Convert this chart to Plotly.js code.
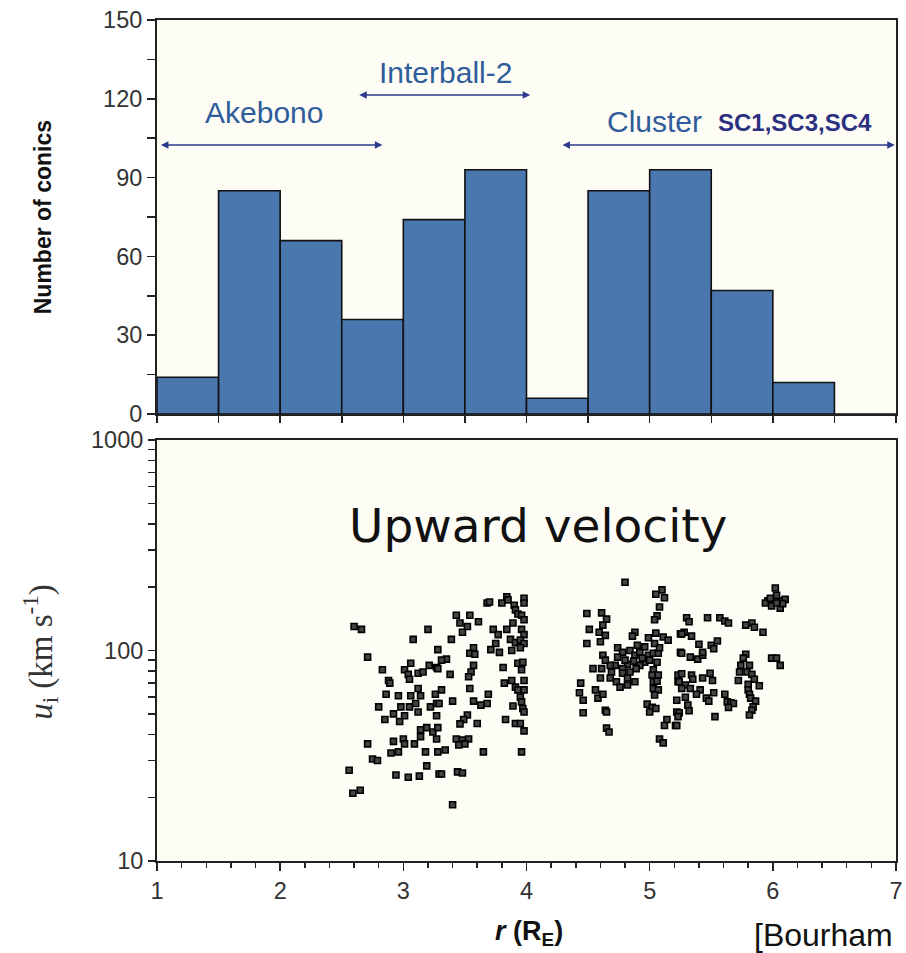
<!DOCTYPE html>
<html>
<head>
<meta charset="utf-8">
<script src="https://cdn.plot.ly/plotly-3.0.1.min.js"></script>
<style>html,body{margin:0;padding:0;background:#fff;}</style>
</head>
<body>
<div id="chart" style="width:906px;height:953px;"></div>
<script>
// Histogram: number of conics per 0.5 R_E bin
var binCenters = [1.25, 1.75, 2.25, 2.75, 3.25, 3.75, 4.25, 4.75, 5.25, 5.75, 6.25, 6.75];
var conicCounts = [14, 85, 66, 36, 74, 93, 6, 85, 93, 47, 12, 0];

// Upward velocity scatter (Akebono / Interball-2 region)
var rLow = [2.60,2.66,3.20,3.08,3.28,2.71,2.83,3.06,3.01,3.04,3.12,3.16,3.21,3.27,2.88,2.89,3.05,2.86,2.96,3.06,3.12,3.14,3.26,
3.68,3.70,3.80,3.84,3.85,3.90,3.98,3.98,3.91,3.93,3.96,3.98,3.43,3.54,3.46,3.52,3.61,3.48,3.73,3.77,3.84,3.89,3.96,3.98,3.39,3.87,3.91,3.95,3.98,3.75,3.71,3.78,3.88,3.95,3.57,3.54,3.58,3.35,3.31,3.28,3.57,3.81,3.93,3.97,3.96,3.38,3.55,3.53,3.82,3.88,3.98,3.91,3.93,3.98,3.31,3.54,3.69,3.95,
2.80,2.98,3.05,3.10,3.12,3.22,3.27,2.85,2.92,2.97,3.01,3.14,3.19,3.24,3.14,3.27,3.00,3.01,3.09,2.92,2.71,2.96,2.90,3.18,2.75,2.79,2.56,3.19,2.94,3.04,3.13,3.29,2.59,2.65,
3.29,3.40,3.57,3.63,3.68,3.89,3.96,3.97,3.98,3.27,3.52,3.49,3.46,3.60,3.83,3.91,3.95,3.98,3.28,3.43,3.48,3.53,3.45,3.50,3.34,3.28,3.65,3.96,3.31,3.44,3.48,3.40];
var uLow = [130,126,126,113,101,93,81,87,81,77,78,79,85,83,72,70,73,62,61,61,66,61,62,
168,170,168,180,174,164,177,168,156,149,147,140,147,147,135,130,137,122,126,119,126,135,126,119,113,113,109,112,108,108,101,98,100,103,103,97,96,91,90,82,85,83,87,88,81,77,79,75,70,72,72,67,65,65,65,66,62,60,
54,54,54,56,51,54,56,47,50,46,49,42,43,41,39,38,38,36,36,37,36,33,32.6,33,30.5,30,27,28.3,25.6,25,25.3,25.9,21,21.7,
56,57.5,57.5,55,56,54.5,57,53,51,49,49.4,47,44.8,45,47,45,45,41.5,43,38,37.6,38,35.6,36,33.7,33,33,33,25.9,26.5,26.2,18.5];

// Upward velocity scatter (Cluster region)
var rHigh = [4.80,5.10,5.05,5.12,5.08,5.06,5.04,4.49,4.61,4.65,4.62,4.51,4.59,4.64,4.60,4.49,4.88,4.86,4.99,5.05,5.11,5.15,5.04,4.74,4.78,4.74,4.62,4.84,4.88,4.92,4.96,4.99,5.03,5.07,4.87,4.96,5.06,4.82,4.54,4.61,4.78,4.84,5.03,5.07,4.69,4.78,4.82,4.88,4.60,4.68,4.73,4.76,4.82,5.02,5.03,5.06,5.03,5.07,5.04,4.44,4.43,4.56,4.58,4.62,4.46,4.46,4.64,4.65,4.98,5.02,5.00,5.05,5.22,5.22,5.14,5.12,5.21,4.65,4.67,5.08,5.11,5.23,5.23,5.25,5.25,
4.90,4.94,4.80,5.00,4.92,4.72,4.68,4.64,5.08,4.89,
6.02,5.96,6.02,6.07,6.10,6.06,5.94,5.99,6.03,5.98,6.08,6.03,
5.30,5.32,5.47,5.57,5.61,5.64,5.78,5.83,5.85,5.92,5.28,5.34,5.26,5.40,5.50,5.55,5.52,5.26,5.33,5.39,5.43,5.43,5.78,5.76,5.74,5.81,5.73,5.79,5.83,5.85,5.72,5.80,5.89,5.80,5.81,5.82,5.86,5.84,5.83,5.81,5.99,6.03,6.06,
5.26,5.34,5.35,5.43,5.49,5.51,5.24,5.29,5.26,5.33,5.41,5.38,5.52,5.61,5.29,5.46,5.48,5.63,5.66,5.68,5.64,5.31,5.32,5.24,5.23,5.53,5.22];
var uHigh = [211,194,185,178,161,146,140,150,151,141,132,126,122,118,110,108,122,117,115,121,116,112,108,103,98,93,95,100,95,98,104,95,97,97,89,88,88,86,82,82,82,79,81,76.5,79,78,74,71,74,74,71,67,68.6,76.5,71,71.5,66,65,61.5,70,63,65,59.4,62,58,50.6,52,51,55.6,53.7,51,53,58,51,47,44,44,42.8,41,38,36.4,76.5,71,98,120,
106,92,90,90,85,85,85,90,103,82,
198,172,174,172,175,159,168,163,183,177,167,168,
143,137,143,143,138,135,132,135,129,122,122,117,120,107,106,111,102,97,93,91,95,98,96,92,85,85,79,79,77,73,72,69,68,65,62,59.4,57.5,54,52,49.4,92,92,85,
77.5,76.5,73,74,78,72,71,68.6,66,66,65,62,63,62,60,59.4,57.5,57,56.5,56,53.7,55,51.7,50.6,48.5,48.5,44];

var rAll = rLow.concat(rHigh);
var uAll = uLow.concat(uHigh);

var xTickVals = [1, 2, 3, 4, 5, 6, 7];
var yLogTickVals = [10, 20, 30, 40, 50, 60, 70, 80, 90, 100, 200, 300, 400, 500, 600, 700, 800, 900, 1000];
var yLogTickText = ['10', '', '', '', '', '', '', '', '', '100', '', '', '', '', '', '', '', '', '1000'];
var yLinTickVals = [0, 15, 30, 45, 60, 75, 90, 105, 120, 135, 150];
var yLinTickText = ['0', '', '30', '', '60', '', '90', '', '120', '', '150'];

var axisColor = '#222';
var sansFamily = 'Liberation Sans, Arial, sans-serif';
var tickFont = {family: sansFamily, size: 23.5, color: '#333'};
var arrowColor = '#2B3A8C';
var labelColor = '#2F5C9A';

var traces = [
  {
    type: 'bar', x: binCenters, y: conicCounts, width: 0.5,
    marker: {color: '#4A78AE', line: {color: '#111', width: 1.6}},
    xaxis: 'x', yaxis: 'y', hoverinfo: 'skip'
  },
  {
    type: 'scatter', mode: 'markers', x: rAll, y: uAll,
    marker: {symbol: 'square', size: 6, color: '#444', line: {width: 1.6, color: '#000'}},
    xaxis: 'x2', yaxis: 'y2', hoverinfo: 'skip'
  }
];

var layout = {
  width: 906, height: 953,
  margin: {l: 157, r: 10, t: 20, b: 92},
  paper_bgcolor: '#ffffff',
  plot_bgcolor: '#FDFDF5',
  showlegend: false,
  bargap: 0,
  xaxis: {
    domain: [0, 1], anchor: 'y', range: [1, 7],
    tickmode: 'linear', tick0: 1, dtick: 0.5, ticks: 'outside', ticklen: 7, tickwidth: 1.5, tickcolor: axisColor,
    showticklabels: false, showgrid: false, zeroline: false,
    showline: true, linecolor: axisColor, linewidth: 2, mirror: true
  },
  yaxis: {
    domain: [0.5315, 1], anchor: 'x', range: [0, 150],
    tickmode: 'array', tickvals: yLinTickVals, ticktext: yLinTickText,
    ticks: 'outside', ticklen: 8, tickwidth: 1.5, tickcolor: axisColor,
    tickfont: tickFont, showgrid: false, zeroline: false,
    showline: true, linecolor: axisColor, linewidth: 2, mirror: true
  },
  xaxis2: {
    domain: [0, 1], anchor: 'y2', range: [1, 7],
    tickmode: 'array', tickvals: xTickVals,
    ticks: 'outside', ticklen: 8, tickwidth: 1.5, tickcolor: axisColor,
    minor: {dtick: 0.2, tick0: 1, ticks: 'outside', ticklen: 5, tickwidth: 1.5, tickcolor: axisColor, showgrid: false},
    tickfont: tickFont, showgrid: false, zeroline: false,
    showline: true, linecolor: axisColor, linewidth: 2, mirror: true
  },
  yaxis2: {
    domain: [0, 0.5006], anchor: 'x2', type: 'log', range: [1, 3],
    tickmode: 'array', tickvals: yLogTickVals, ticktext: yLogTickText,
    ticks: 'outside', ticklen: 7, tickwidth: 1.5, tickcolor: axisColor,
    tickfont: tickFont, showgrid: false, zeroline: false,
    showline: true, linecolor: axisColor, linewidth: 2, mirror: true
  },
  annotations: [
    // satellite range arrows
    {xref: 'x', yref: 'y', axref: 'x', ayref: 'y', x: 2.83, y: 102.4, ax: 1.02, ay: 102.4, text: '',
     showarrow: true, arrowside: 'end+start', arrowhead: 2, arrowsize: 1, arrowwidth: 1.5, arrowcolor: arrowColor},
    {xref: 'x', yref: 'y', axref: 'x', ayref: 'y', x: 4.03, y: 121.4, ax: 2.63, ay: 121.4, text: '',
     showarrow: true, arrowside: 'end+start', arrowhead: 2, arrowsize: 1, arrowwidth: 1.5, arrowcolor: arrowColor},
    {xref: 'x', yref: 'y', axref: 'x', ayref: 'y', x: 6.99, y: 102.4, ax: 4.28, ay: 102.4, text: '',
     showarrow: true, arrowside: 'end+start', arrowhead: 2, arrowsize: 1, arrowwidth: 1.5, arrowcolor: arrowColor},
    {xref: 'x', yref: 'y', x: 1.87, y: 114.6, xanchor: 'center', yanchor: 'middle', text: 'Akebono', showarrow: false,
     font: {family: sansFamily, size: 30, color: labelColor}},
    {xref: 'x', yref: 'y', x: 3.34, y: 130.2, xanchor: 'center', yanchor: 'middle', text: 'Interball-2', showarrow: false,
     font: {family: sansFamily, size: 30, color: labelColor}},
    {xref: 'x', yref: 'y', x: 5.04, y: 111.2, xanchor: 'center', yanchor: 'middle', text: 'Cluster', showarrow: false,
     font: {family: sansFamily, size: 30, color: labelColor}},
    {xref: 'x', yref: 'y', x: 6.18, y: 110.8, xanchor: 'center', yanchor: 'middle', text: '<b>SC1,SC3,SC4</b>', showarrow: false,
     font: {family: sansFamily, size: 24, color: '#2B3180'}},
    // axis titles
    {xref: 'paper', yref: 'paper', x: -0.155, y: 0.766, xanchor: 'center', yanchor: 'middle',
     text: '<b>Number of conics</b>', textangle: -90, showarrow: false,
     font: {family: sansFamily, size: 23, color: '#111'}},
    {xref: 'paper', yref: 'paper', x: -0.158, y: 0.249, xanchor: 'center', yanchor: 'middle',
     text: '<i>u</i><sub>i</sub> (km s<sup>-1</sup>)', textangle: -90, showarrow: false,
     font: {family: 'Liberation Serif, Times New Roman, serif', size: 33, color: '#333'}},
    {xref: 'paper', yref: 'paper', x: 0.503, y: -0.086, xanchor: 'center', yanchor: 'middle',
     text: '<b><i>r</i> (R<sub>E</sub>)</b>', showarrow: false,
     font: {family: sansFamily, size: 27, color: '#111'}},
    {xref: 'paper', yref: 'paper', x: 0.805, y: -0.088, xanchor: 'left', yanchor: 'middle',
     text: '[Bourham', showarrow: false,
     font: {family: sansFamily, size: 32, color: '#111'}},
    // panel label
    {xref: 'x2', yref: 'y2', x: 4.09, y: 2.596, xanchor: 'center', yanchor: 'middle',
     text: 'Upward velocity', showarrow: false,
     font: {family: 'DejaVu Sans, Verdana, sans-serif', size: 47, color: '#111'}}
  ]
};

Plotly.newPlot('chart', traces, layout, {displayModeBar: false, staticPlot: true});
</script>
</body>
</html>
